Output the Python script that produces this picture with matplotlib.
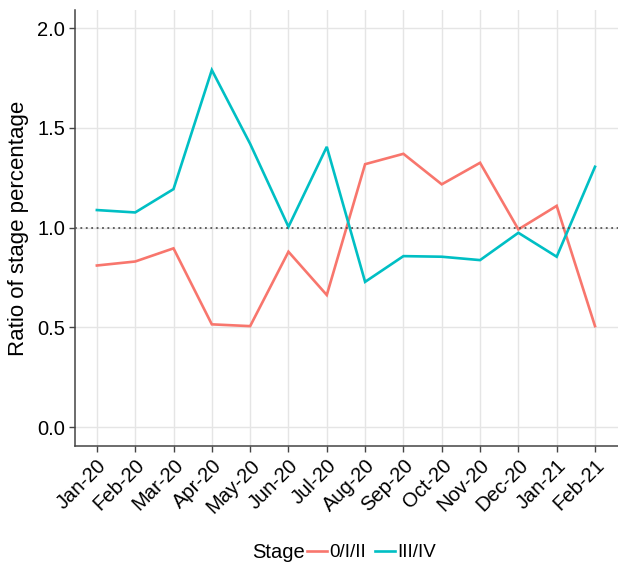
import numpy as np
import matplotlib.pyplot as plt

plt.rcParams['font.family'] = ['Liberation Sans', 'DejaVu Sans']

months = ['Jan-20', 'Feb-20', 'Mar-20', 'Apr-20', 'May-20', 'Jun-20', 'Jul-20',
          'Aug-20', 'Sep-20', 'Oct-20', 'Nov-20', 'Dec-20', 'Jan-21', 'Feb-21']
early = [0.81, 0.83, 0.896, 0.515, 0.506, 0.879, 0.662,
         1.318, 1.37, 1.217, 1.325, 0.991, 1.109, 0.506]   # 0/I/II
late = [1.088, 1.076, 1.193, 1.79, 1.42, 1.004, 1.405,
        0.728, 0.857, 0.854, 0.837, 0.974, 0.854, 1.305]   # III/IV
stages = ['0/I/II', 'III/IV']
colors = ['#F8766D', '#00BFC4']

fig = plt.figure(figsize=(6.18, 5.67), dpi=100)
ax = fig.add_axes([0.1214, 0.2134, 0.8786, 0.7686])

x = np.arange(len(months))
for vals, lab, col in zip([early, late], stages, colors):
    ax.plot(x, vals, color=col, lw=1.9, label=lab, solid_joinstyle='miter')

ax.axhline(1.0, color='#555555', ls=(0, (1, 2)), lw=1.3, zorder=3)

ax.set_xlim(-0.57, 13.6)
ax.set_ylim(-0.095, 2.09)
ax.set_xticks(x)
ax.set_xticklabels(months, rotation=45, ha='right', rotation_mode='anchor')
ax.set_yticks([0.0, 0.5, 1.0, 1.5, 2.0])
ax.set_yticklabels(['0.0', '0.5', '1.0', '1.5', '2.0'])
ax.grid(True, color='#E5E5E5', lw=1.0)
ax.set_axisbelow(True)
for s in ['top', 'right']:
    ax.spines[s].set_visible(False)
for s in ['left', 'bottom']:
    ax.spines[s].set_color('#444444')
    ax.spines[s].set_linewidth(1.1)
ax.tick_params(axis='both', colors='#444444', labelcolor='black', labelsize=14.5,
               length=4, width=1.0, pad=3)
ax.set_ylabel('Ratio of stage percentage', fontsize=16, labelpad=6)

fig.text(0.494, 0.025, 'Stage', fontsize=14.5, ha='right', va='center')
fig.legend(loc='center left', bbox_to_anchor=(0.497, 0.025), ncol=2, frameon=False,
           fontsize=13.5, handlelength=1.05, handletextpad=0.15, columnspacing=0.45,
           borderaxespad=0, borderpad=0)

fig.savefig('out.png', dpi=100)
